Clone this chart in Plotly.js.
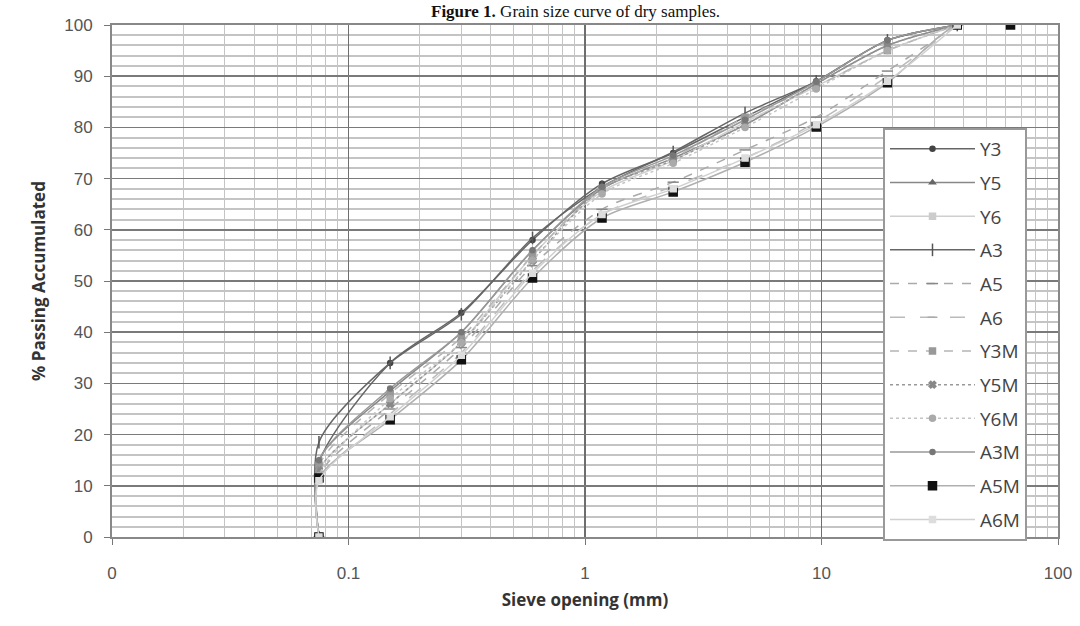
<!DOCTYPE html>
<html><head><meta charset="utf-8">
<script src="https://cdn.plot.ly/plotly-3.0.1.min.js"></script>
<style>html,body{margin:0;padding:0;background:#fff}#chart{width:1080px;height:626px}</style>
</head><body><div id="chart"></div>
<script>
// Sieve openings (mm); first entry is the pan (0 %) plotted at 0.075
const sieves = [0.075, 0.075, 0.15, 0.3, 0.6, 1.18, 2.36, 4.75, 9.5, 19, 37.5];
const sievesA5M = [0.075, 0.075, 0.15, 0.3, 0.6, 1.18, 2.36, 4.75, 9.5, 19, 37.5, 63];
const xTickVals = [0.01, 0.1, 1, 10, 100];
const xTickText = ["0", "0.1", "1", "10", "100"];

const names = ["Y3","Y5","Y6","A3","A5","A6","Y3M","Y5M","Y6M","A3M","A5M","A6M"];
const Y3  = [0, 14.5, 34.0, 43.8, 58.0, 69.0, 75.0, 82.0, 89.0, 97.0, 100];
const Y5  = [0, 15.0, 28.5, 40.0, 56.0, 68.0, 74.0, 80.5, 88.5, 96.0, 100];
const Y6  = [0, 13.0, 26.0, 38.0, 55.0, 67.5, 73.5, 81.0, 88.0, 95.0, 100];
const A3  = [0, 18.5, 34.0, 43.5, 58.4, 68.4, 75.2, 82.8, 89.0, 97.0, 100];
const A5  = [0, 12.0, 25.0, 37.0, 53.0, 64.0, 69.3, 75.6, 82.0, 91.0, 100];
const A6  = [0, 11.0, 24.0, 36.0, 52.0, 63.0, 68.5, 74.0, 81.0, 90.0, 100];
const Y3M = [0, 14.0, 28.0, 39.0, 55.0, 68.0, 74.0, 82.0, 88.0, 95.0, 100];
const Y5M = [0, 13.0, 26.0, 38.0, 54.0, 68.0, 73.6, 80.5, 88.5, 96.0, 100];
const Y6M = [0, 12.0, 27.0, 38.0, 54.1, 67.0, 73.0, 80.0, 87.5, 95.0, 100];
const A3M = [0, 15.0, 29.0, 40.0, 56.0, 68.4, 74.5, 81.5, 88.9, 97.0, 100];
const A5M = [0, 11.5, 22.9, 34.6, 50.6, 62.3, 67.4, 73.2, 80.1, 88.7, 100, 100];
const A6M = [0, 11.0, 23.5, 35.5, 51.5, 63.0, 68.0, 74.0, 80.5, 89.0, 100];

const series = [Y3,Y5,Y6,A3,A5,A6,Y3M,Y5M,Y6M,A3M,A5M,A6M];
const styles = [
  {c:"#666", d:"solid",   m:"circle",        mc:"#444", ms:5},
  {c:"#888", d:"solid",   m:"triangle-up",   mc:"#666", ms:5},
  {c:"#cfcfcf", d:"solid",m:"square",        mc:"#ccc", ms:6},
  {c:"#666", d:"solid",   m:"line-ns-open",  mc:"#555", ms:9},
  {c:"#aaa", d:"dash",    m:"line-ew-open",  mc:"#888", ms:8},
  {c:"#bbb", d:"longdash",m:"line-ew-open",  mc:"#aaa", ms:7},
  {c:"#b5b5b5", d:"dash", m:"square",        mc:"#999", ms:6},
  {c:"#999", d:"dot",     m:"x",             mc:"#888", ms:6},
  {c:"#c4c4c4", d:"dot",  m:"circle",        mc:"#aaa", ms:6},
  {c:"#999", d:"solid",   m:"circle",        mc:"#777", ms:5},
  {c:"#b0b0b0", d:"solid",m:"square",        mc:"#111", ms:8},
  {c:"#d0d0d0", d:"solid",m:"square",        mc:"#ddd", ms:6}
];

// minor gridline positions on the log axis (2..9 of each decade)
const minorX = [];
[0.01, 0.1, 1, 10].forEach(d => { for (let k = 2; k <= 9; k++) minorX.push(+(d*k).toPrecision(3)); });

const traces = series.map((y,i)=>({
  type:"scatter", mode:"lines+markers", name:names[i], legendgroup:names[i],
  x: names[i]==="A5M" ? sievesA5M : sieves, y:y,
  line:{color:styles[i].c, dash:styles[i].d, width:1.5, shape:"spline", smoothing:0.8},
  marker:{symbol:styles[i].m, color:styles[i].mc, size:styles[i].ms,
          line:{color:styles[i].mc, width:1.5}}
}));

const layout = {
  width:1080, height:626,
  margin:{l:112, r:22, t:25, b:89},
  paper_bgcolor:"#fff", plot_bgcolor:"#fff",
  showlegend:true,
  legend:{x:0.815, xanchor:"left", y:0.799, yanchor:"top",
          bgcolor:"#fff", bordercolor:"#999", borderwidth:2,
          font:{family:"Open Sans, Liberation Sans, sans-serif", size:19, color:"#444"},
          traceorder:"grouped", tracegroupgap:6, itemwidth:85},
  xaxis:{type:"log", range:[-2,2], autorange:false,
         tickmode:"array", tickvals:xTickVals, ticktext:xTickText,
         tickfont:{family:"Liberation Sans, sans-serif", size:17, color:"#555"},
         ticks:"outside", ticklen:6, tickcolor:"#777", ticklabelstandoff:14,
         showgrid:true, gridcolor:"#6e6e6e", gridwidth:1.5,
         minor:{tickmode:"array", tickvals:minorX, showgrid:true, gridcolor:"#c4c4c4", gridwidth:1, ticks:""},
         showline:true, linecolor:"#888", linewidth:2, mirror:true, zeroline:false,
         title:{text:"<b>Sieve opening (mm)</b>", standoff:12,
                font:{family:"Open Sans, Liberation Sans, sans-serif", size:17, color:"#333"}}},
  yaxis:{range:[0,100], autorange:false, dtick:10,
         tickfont:{family:"Liberation Sans, sans-serif", size:17, color:"#555"},
         ticks:"outside", ticklen:6, tickcolor:"#777", ticklabelstandoff:8,
         showgrid:true, gridcolor:"#7a7a7a", gridwidth:1.5,
         minor:{dtick:2, showgrid:true, gridcolor:"#c4c4c4", gridwidth:2},
         showline:true, linecolor:"#888", linewidth:2, mirror:true, zeroline:false,
         title:{text:"<b>% Passing Accumulated</b>", standoff:14,
                font:{family:"Open Sans, Liberation Sans, sans-serif", size:17, color:"#333"}}},
  annotations:[{text:"<b>Figure 1.</b> Grain size curve of dry samples.",
                xref:"paper", yref:"paper", x:0.49, y:1.027, xanchor:"center", yanchor:"middle",
                showarrow:false, font:{family:"Liberation Serif, serif", size:17, color:"#111"}}]
};

Plotly.newPlot("chart", traces, layout, {displayModeBar:false, staticPlot:true});
</script></body></html>
